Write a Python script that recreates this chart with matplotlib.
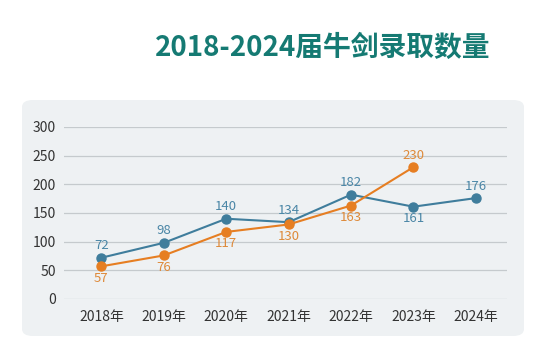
import matplotlib.pyplot as plt
from matplotlib.patches import FancyBboxPatch

plt.rcParams['font.family'] = ['Noto Sans CJK SC', 'DejaVu Sans']

years = ['2018年', '2019年', '2020年', '2021年', '2022年', '2023年', '2024年']
blue_vals = [72, 98, 140, 134, 182, 161, 176]
orange_vals = [57, 76, 117, 130, 163, 230]
blue_below = [False, False, False, False, False, True, False]
orange_above = [False, False, False, False, False, True]
yticks = [0, 50, 100, 150, 200, 250, 300]

blue = '#3f7d9c'
orange = '#e67e22'

fig = plt.figure(figsize=(5.44, 3.52), dpi=100)
fig.patches.append(FancyBboxPatch((22 / 544, 1 - 336 / 352), 502 / 544, 236 / 352,
                                  boxstyle='round,pad=0,rounding_size=0.02',
                                  transform=fig.transFigure, facecolor='#eef1f3',
                                  edgecolor='none', zorder=-5))
fig.text(490 / 544, 1 - 48 / 352, '2018-2024届牛剑录取数量', ha='right', va='center',
         fontsize=20, fontweight='bold', color='#157a73')

ax = fig.add_axes([64 / 544, 1 - 299 / 352, 443 / 544, 172 / 352])
ax.set_zorder(2)
ax.set_facecolor('none')
x = range(len(years))
ax.plot(x, blue_vals, color=blue, lw=1.5, marker='o', ms=6.5, zorder=3)
ax.plot(range(len(orange_vals)), orange_vals, color=orange, lw=1.5, marker='o', ms=6.5, zorder=3)

for i, v in enumerate(blue_vals):
    dy = -4 if blue_below[i] else 4
    ax.annotate(str(v), (i, v), xytext=(0, dy), textcoords='offset points',
                ha='center', va='top' if blue_below[i] else 'bottom',
                fontsize=9.5, color='#4a86a6')
for i, v in enumerate(orange_vals):
    dy = 4 if orange_above[i] else -4
    ax.annotate(str(v), (i, v), xytext=(0, dy), textcoords='offset points',
                ha='center', va='bottom' if orange_above[i] else 'top',
                fontsize=9.5, color='#de8a3a')

ax.set_xlim(-0.6, 6.5)
ax.set_ylim(0, 300)
ax.set_yticks(yticks)
ax.set_xticks(list(x))
ax.set_xticklabels(years)
ax.grid(axis='y', color='#c5cacd', lw=0.9)
ax.set_axisbelow(True)
for s in ax.spines.values():
    s.set_visible(False)
ax.tick_params(length=0, labelsize=10, colors='#333333')
ax.tick_params(axis='y', pad=6)
ax.tick_params(axis='x', pad=8)

fig.savefig('out.png', dpi=100)
